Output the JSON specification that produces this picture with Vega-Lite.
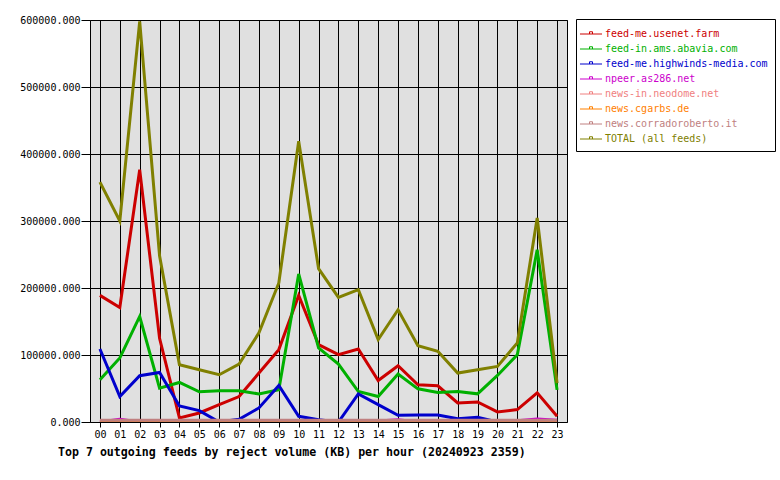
{
  "$schema": "https://vega.github.io/schema/vega-lite/v6.json",
  "width": 477,
  "height": 402,
  "autosize": "none",
  "padding": {"left": 90, "top": 20, "right": 213, "bottom": 58},
  "background": "white",
  "config": {
    "font": "DejaVu Sans Mono",
    "view": {"fill": "#e0e0e0", "stroke": "black", "strokeWidth": 1},
    "axis": {"labelFont": "DejaVu Sans Mono", "labelFontSize": 10, "labelColor": "black", "tickColor": "black", "gridColor": "black", "gridOpacity": 1, "gridWidth": 1, "domain": false, "title": null}
  },
  "title": {
    "text": "Top 7 outgoing feeds by reject volume (KB) per hour (20240923 2359)",
    "orient": "bottom",
    "anchor": "start",
    "frame": "group",
    "dx": -32,
    "offset": 8,
    "font": "DejaVu Sans Mono",
    "fontSize": 11.6,
    "fontWeight": "bold",
    "color": "black"
  },
  "data": {
    "values": [
      {"hour":"00","feed":"feed-me.usenet.farm","kb":189000},{"hour":"01","feed":"feed-me.usenet.farm","kb":171000},{"hour":"02","feed":"feed-me.usenet.farm","kb":376500},{"hour":"03","feed":"feed-me.usenet.farm","kb":125000},{"hour":"04","feed":"feed-me.usenet.farm","kb":6000},{"hour":"05","feed":"feed-me.usenet.farm","kb":13500},{"hour":"06","feed":"feed-me.usenet.farm","kb":26000},{"hour":"07","feed":"feed-me.usenet.farm","kb":38000},{"hour":"08","feed":"feed-me.usenet.farm","kb":73000},{"hour":"09","feed":"feed-me.usenet.farm","kb":108000},{"hour":"10","feed":"feed-me.usenet.farm","kb":189000},{"hour":"11","feed":"feed-me.usenet.farm","kb":115500},{"hour":"12","feed":"feed-me.usenet.farm","kb":100500},{"hour":"13","feed":"feed-me.usenet.farm","kb":109000},{"hour":"14","feed":"feed-me.usenet.farm","kb":62000},{"hour":"15","feed":"feed-me.usenet.farm","kb":84000},{"hour":"16","feed":"feed-me.usenet.farm","kb":55500},{"hour":"17","feed":"feed-me.usenet.farm","kb":54000},{"hour":"18","feed":"feed-me.usenet.farm","kb":28500},{"hour":"19","feed":"feed-me.usenet.farm","kb":30000},{"hour":"20","feed":"feed-me.usenet.farm","kb":15000},{"hour":"21","feed":"feed-me.usenet.farm","kb":18500},{"hour":"22","feed":"feed-me.usenet.farm","kb":43500},{"hour":"23","feed":"feed-me.usenet.farm","kb":8500},
      {"hour":"00","feed":"feed-in.ams.abavia.com","kb":63000},{"hour":"01","feed":"feed-in.ams.abavia.com","kb":95500},{"hour":"02","feed":"feed-in.ams.abavia.com","kb":157500},{"hour":"03","feed":"feed-in.ams.abavia.com","kb":50500},{"hour":"04","feed":"feed-in.ams.abavia.com","kb":59000},{"hour":"05","feed":"feed-in.ams.abavia.com","kb":45000},{"hour":"06","feed":"feed-in.ams.abavia.com","kb":46500},{"hour":"07","feed":"feed-in.ams.abavia.com","kb":46500},{"hour":"08","feed":"feed-in.ams.abavia.com","kb":42000},{"hour":"09","feed":"feed-in.ams.abavia.com","kb":48000},{"hour":"10","feed":"feed-in.ams.abavia.com","kb":221000},{"hour":"11","feed":"feed-in.ams.abavia.com","kb":110500},{"hour":"12","feed":"feed-in.ams.abavia.com","kb":86500},{"hour":"13","feed":"feed-in.ams.abavia.com","kb":45500},{"hour":"14","feed":"feed-in.ams.abavia.com","kb":38000},{"hour":"15","feed":"feed-in.ams.abavia.com","kb":71500},{"hour":"16","feed":"feed-in.ams.abavia.com","kb":49500},{"hour":"17","feed":"feed-in.ams.abavia.com","kb":44000},{"hour":"18","feed":"feed-in.ams.abavia.com","kb":45500},{"hour":"19","feed":"feed-in.ams.abavia.com","kb":42000},{"hour":"20","feed":"feed-in.ams.abavia.com","kb":69500},{"hour":"21","feed":"feed-in.ams.abavia.com","kb":100500},{"hour":"22","feed":"feed-in.ams.abavia.com","kb":257000},{"hour":"23","feed":"feed-in.ams.abavia.com","kb":48000},
      {"hour":"00","feed":"feed-me.highwinds-media.com","kb":109000},{"hour":"01","feed":"feed-me.highwinds-media.com","kb":38000},{"hour":"02","feed":"feed-me.highwinds-media.com","kb":69000},{"hour":"03","feed":"feed-me.highwinds-media.com","kb":74000},{"hour":"04","feed":"feed-me.highwinds-media.com","kb":24000},{"hour":"05","feed":"feed-me.highwinds-media.com","kb":17000},{"hour":"06","feed":"feed-me.highwinds-media.com","kb":0},{"hour":"07","feed":"feed-me.highwinds-media.com","kb":4000},{"hour":"08","feed":"feed-me.highwinds-media.com","kb":21000},{"hour":"09","feed":"feed-me.highwinds-media.com","kb":54500},{"hour":"10","feed":"feed-me.highwinds-media.com","kb":8500},{"hour":"11","feed":"feed-me.highwinds-media.com","kb":3500},{"hour":"12","feed":"feed-me.highwinds-media.com","kb":0},{"hour":"13","feed":"feed-me.highwinds-media.com","kb":42000},{"hour":"14","feed":"feed-me.highwinds-media.com","kb":26000},{"hour":"15","feed":"feed-me.highwinds-media.com","kb":10000},{"hour":"16","feed":"feed-me.highwinds-media.com","kb":10500},{"hour":"17","feed":"feed-me.highwinds-media.com","kb":10500},{"hour":"18","feed":"feed-me.highwinds-media.com","kb":5000},{"hour":"19","feed":"feed-me.highwinds-media.com","kb":7000},{"hour":"20","feed":"feed-me.highwinds-media.com","kb":0},{"hour":"21","feed":"feed-me.highwinds-media.com","kb":0},{"hour":"22","feed":"feed-me.highwinds-media.com","kb":0},{"hour":"23","feed":"feed-me.highwinds-media.com","kb":0},
      {"hour":"00","feed":"npeer.as286.net","kb":0},{"hour":"01","feed":"npeer.as286.net","kb":4000},{"hour":"02","feed":"npeer.as286.net","kb":0},{"hour":"03","feed":"npeer.as286.net","kb":0},{"hour":"04","feed":"npeer.as286.net","kb":0},{"hour":"05","feed":"npeer.as286.net","kb":0},{"hour":"06","feed":"npeer.as286.net","kb":0},{"hour":"07","feed":"npeer.as286.net","kb":0},{"hour":"08","feed":"npeer.as286.net","kb":0},{"hour":"09","feed":"npeer.as286.net","kb":0},{"hour":"10","feed":"npeer.as286.net","kb":0},{"hour":"11","feed":"npeer.as286.net","kb":0},{"hour":"12","feed":"npeer.as286.net","kb":0},{"hour":"13","feed":"npeer.as286.net","kb":0},{"hour":"14","feed":"npeer.as286.net","kb":1500},{"hour":"15","feed":"npeer.as286.net","kb":3500},{"hour":"16","feed":"npeer.as286.net","kb":0},{"hour":"17","feed":"npeer.as286.net","kb":0},{"hour":"18","feed":"npeer.as286.net","kb":0},{"hour":"19","feed":"npeer.as286.net","kb":0},{"hour":"20","feed":"npeer.as286.net","kb":0},{"hour":"21","feed":"npeer.as286.net","kb":2000},{"hour":"22","feed":"npeer.as286.net","kb":4500},{"hour":"23","feed":"npeer.as286.net","kb":2500},
      {"hour":"00","feed":"news-in.neodome.net","kb":0},{"hour":"01","feed":"news-in.neodome.net","kb":0},{"hour":"02","feed":"news-in.neodome.net","kb":0},{"hour":"03","feed":"news-in.neodome.net","kb":0},{"hour":"04","feed":"news-in.neodome.net","kb":0},{"hour":"05","feed":"news-in.neodome.net","kb":0},{"hour":"06","feed":"news-in.neodome.net","kb":0},{"hour":"07","feed":"news-in.neodome.net","kb":0},{"hour":"08","feed":"news-in.neodome.net","kb":0},{"hour":"09","feed":"news-in.neodome.net","kb":0},{"hour":"10","feed":"news-in.neodome.net","kb":0},{"hour":"11","feed":"news-in.neodome.net","kb":0},{"hour":"12","feed":"news-in.neodome.net","kb":0},{"hour":"13","feed":"news-in.neodome.net","kb":0},{"hour":"14","feed":"news-in.neodome.net","kb":0},{"hour":"15","feed":"news-in.neodome.net","kb":0},{"hour":"16","feed":"news-in.neodome.net","kb":0},{"hour":"17","feed":"news-in.neodome.net","kb":0},{"hour":"18","feed":"news-in.neodome.net","kb":0},{"hour":"19","feed":"news-in.neodome.net","kb":0},{"hour":"20","feed":"news-in.neodome.net","kb":0},{"hour":"21","feed":"news-in.neodome.net","kb":0},{"hour":"22","feed":"news-in.neodome.net","kb":0},{"hour":"23","feed":"news-in.neodome.net","kb":0},
      {"hour":"00","feed":"news.cgarbs.de","kb":0},{"hour":"01","feed":"news.cgarbs.de","kb":0},{"hour":"02","feed":"news.cgarbs.de","kb":0},{"hour":"03","feed":"news.cgarbs.de","kb":0},{"hour":"04","feed":"news.cgarbs.de","kb":0},{"hour":"05","feed":"news.cgarbs.de","kb":0},{"hour":"06","feed":"news.cgarbs.de","kb":0},{"hour":"07","feed":"news.cgarbs.de","kb":0},{"hour":"08","feed":"news.cgarbs.de","kb":0},{"hour":"09","feed":"news.cgarbs.de","kb":0},{"hour":"10","feed":"news.cgarbs.de","kb":0},{"hour":"11","feed":"news.cgarbs.de","kb":0},{"hour":"12","feed":"news.cgarbs.de","kb":0},{"hour":"13","feed":"news.cgarbs.de","kb":0},{"hour":"14","feed":"news.cgarbs.de","kb":0},{"hour":"15","feed":"news.cgarbs.de","kb":0},{"hour":"16","feed":"news.cgarbs.de","kb":0},{"hour":"17","feed":"news.cgarbs.de","kb":0},{"hour":"18","feed":"news.cgarbs.de","kb":0},{"hour":"19","feed":"news.cgarbs.de","kb":0},{"hour":"20","feed":"news.cgarbs.de","kb":0},{"hour":"21","feed":"news.cgarbs.de","kb":0},{"hour":"22","feed":"news.cgarbs.de","kb":0},{"hour":"23","feed":"news.cgarbs.de","kb":0},
      {"hour":"00","feed":"news.corradoroberto.it","kb":2500},{"hour":"01","feed":"news.corradoroberto.it","kb":2500},{"hour":"02","feed":"news.corradoroberto.it","kb":2500},{"hour":"03","feed":"news.corradoroberto.it","kb":2500},{"hour":"04","feed":"news.corradoroberto.it","kb":2500},{"hour":"05","feed":"news.corradoroberto.it","kb":2500},{"hour":"06","feed":"news.corradoroberto.it","kb":2500},{"hour":"07","feed":"news.corradoroberto.it","kb":2500},{"hour":"08","feed":"news.corradoroberto.it","kb":2500},{"hour":"09","feed":"news.corradoroberto.it","kb":2500},{"hour":"10","feed":"news.corradoroberto.it","kb":2500},{"hour":"11","feed":"news.corradoroberto.it","kb":2500},{"hour":"12","feed":"news.corradoroberto.it","kb":2500},{"hour":"13","feed":"news.corradoroberto.it","kb":2500},{"hour":"14","feed":"news.corradoroberto.it","kb":2500},{"hour":"15","feed":"news.corradoroberto.it","kb":2500},{"hour":"16","feed":"news.corradoroberto.it","kb":2500},{"hour":"17","feed":"news.corradoroberto.it","kb":2500},{"hour":"18","feed":"news.corradoroberto.it","kb":2500},{"hour":"19","feed":"news.corradoroberto.it","kb":2500},{"hour":"20","feed":"news.corradoroberto.it","kb":2500},{"hour":"21","feed":"news.corradoroberto.it","kb":2500},{"hour":"22","feed":"news.corradoroberto.it","kb":2500},{"hour":"23","feed":"news.corradoroberto.it","kb":2500},
      {"hour":"00","feed":"TOTAL (all feeds)","kb":358000},{"hour":"01","feed":"TOTAL (all feeds)","kb":300000},{"hour":"02","feed":"TOTAL (all feeds)","kb":598000},{"hour":"03","feed":"TOTAL (all feeds)","kb":248000},{"hour":"04","feed":"TOTAL (all feeds)","kb":85500},{"hour":"05","feed":"TOTAL (all feeds)","kb":78000},{"hour":"06","feed":"TOTAL (all feeds)","kb":70500},{"hour":"07","feed":"TOTAL (all feeds)","kb":86500},{"hour":"08","feed":"TOTAL (all feeds)","kb":133000},{"hour":"09","feed":"TOTAL (all feeds)","kb":207500},{"hour":"10","feed":"TOTAL (all feeds)","kb":419000},{"hour":"11","feed":"TOTAL (all feeds)","kb":229000},{"hour":"12","feed":"TOTAL (all feeds)","kb":186000},{"hour":"13","feed":"TOTAL (all feeds)","kb":197500},{"hour":"14","feed":"TOTAL (all feeds)","kb":123000},{"hour":"15","feed":"TOTAL (all feeds)","kb":167500},{"hour":"16","feed":"TOTAL (all feeds)","kb":114000},{"hour":"17","feed":"TOTAL (all feeds)","kb":105500},{"hour":"18","feed":"TOTAL (all feeds)","kb":73000},{"hour":"19","feed":"TOTAL (all feeds)","kb":78000},{"hour":"20","feed":"TOTAL (all feeds)","kb":83000},{"hour":"21","feed":"TOTAL (all feeds)","kb":118000},{"hour":"22","feed":"TOTAL (all feeds)","kb":304500},{"hour":"23","feed":"TOTAL (all feeds)","kb":58000}
    ]
  },
  "mark": {"type": "line", "strokeWidth": 3, "clip": true},
  "encoding": {
    "x": {
      "field": "hour", "type": "ordinal",
      "scale": {"type": "point", "padding": 0.5},
      "axis": {"labelAngle": 0, "tickSize": 5, "labelPadding": 2, "grid": true}
    },
    "y": {
      "field": "kb", "type": "quantitative",
      "scale": {"domain": [0, 600000], "nice": false, "zero": true},
      "axis": {"values": [0, 100000, 200000, 300000, 400000, 500000, 600000], "format": ".3f", "tickSize": 9, "labelPadding": 1, "grid": true}
    },
    "color": {
      "field": "feed", "type": "nominal",
      "scale": {
        "domain": ["feed-me.usenet.farm", "feed-in.ams.abavia.com", "feed-me.highwinds-media.com", "npeer.as286.net", "news-in.neodome.net", "news.cgarbs.de", "news.corradoroberto.it", "TOTAL (all feeds)"],
        "range": ["#cc0000", "#00b000", "#0000cc", "#cc00cc", "#f08080", "#ff8000", "#c08080", "#808000"]
      },
      "legend": {
        "orient": "none", "legendX": 486, "legendY": -1, "title": null,
        "fillColor": "white", "strokeColor": "black", "padding": 7,
        "symbolType": "M-1.47,0H1.47M-0.2,0V-0.3H0.2V0",
        "symbolSize": 225, "symbolStrokeWidth": 1, "symbolFillColor": "transparent",
        "labelFont": "DejaVu Sans Mono", "labelFontSize": 10, "labelOffset": 6, "rowPadding": 2, "labelLimit": 300,
        "encode": {"labels": {"update": {"fill": {"scale": "color", "field": "value"}}}}
      }
    }
  }
}
